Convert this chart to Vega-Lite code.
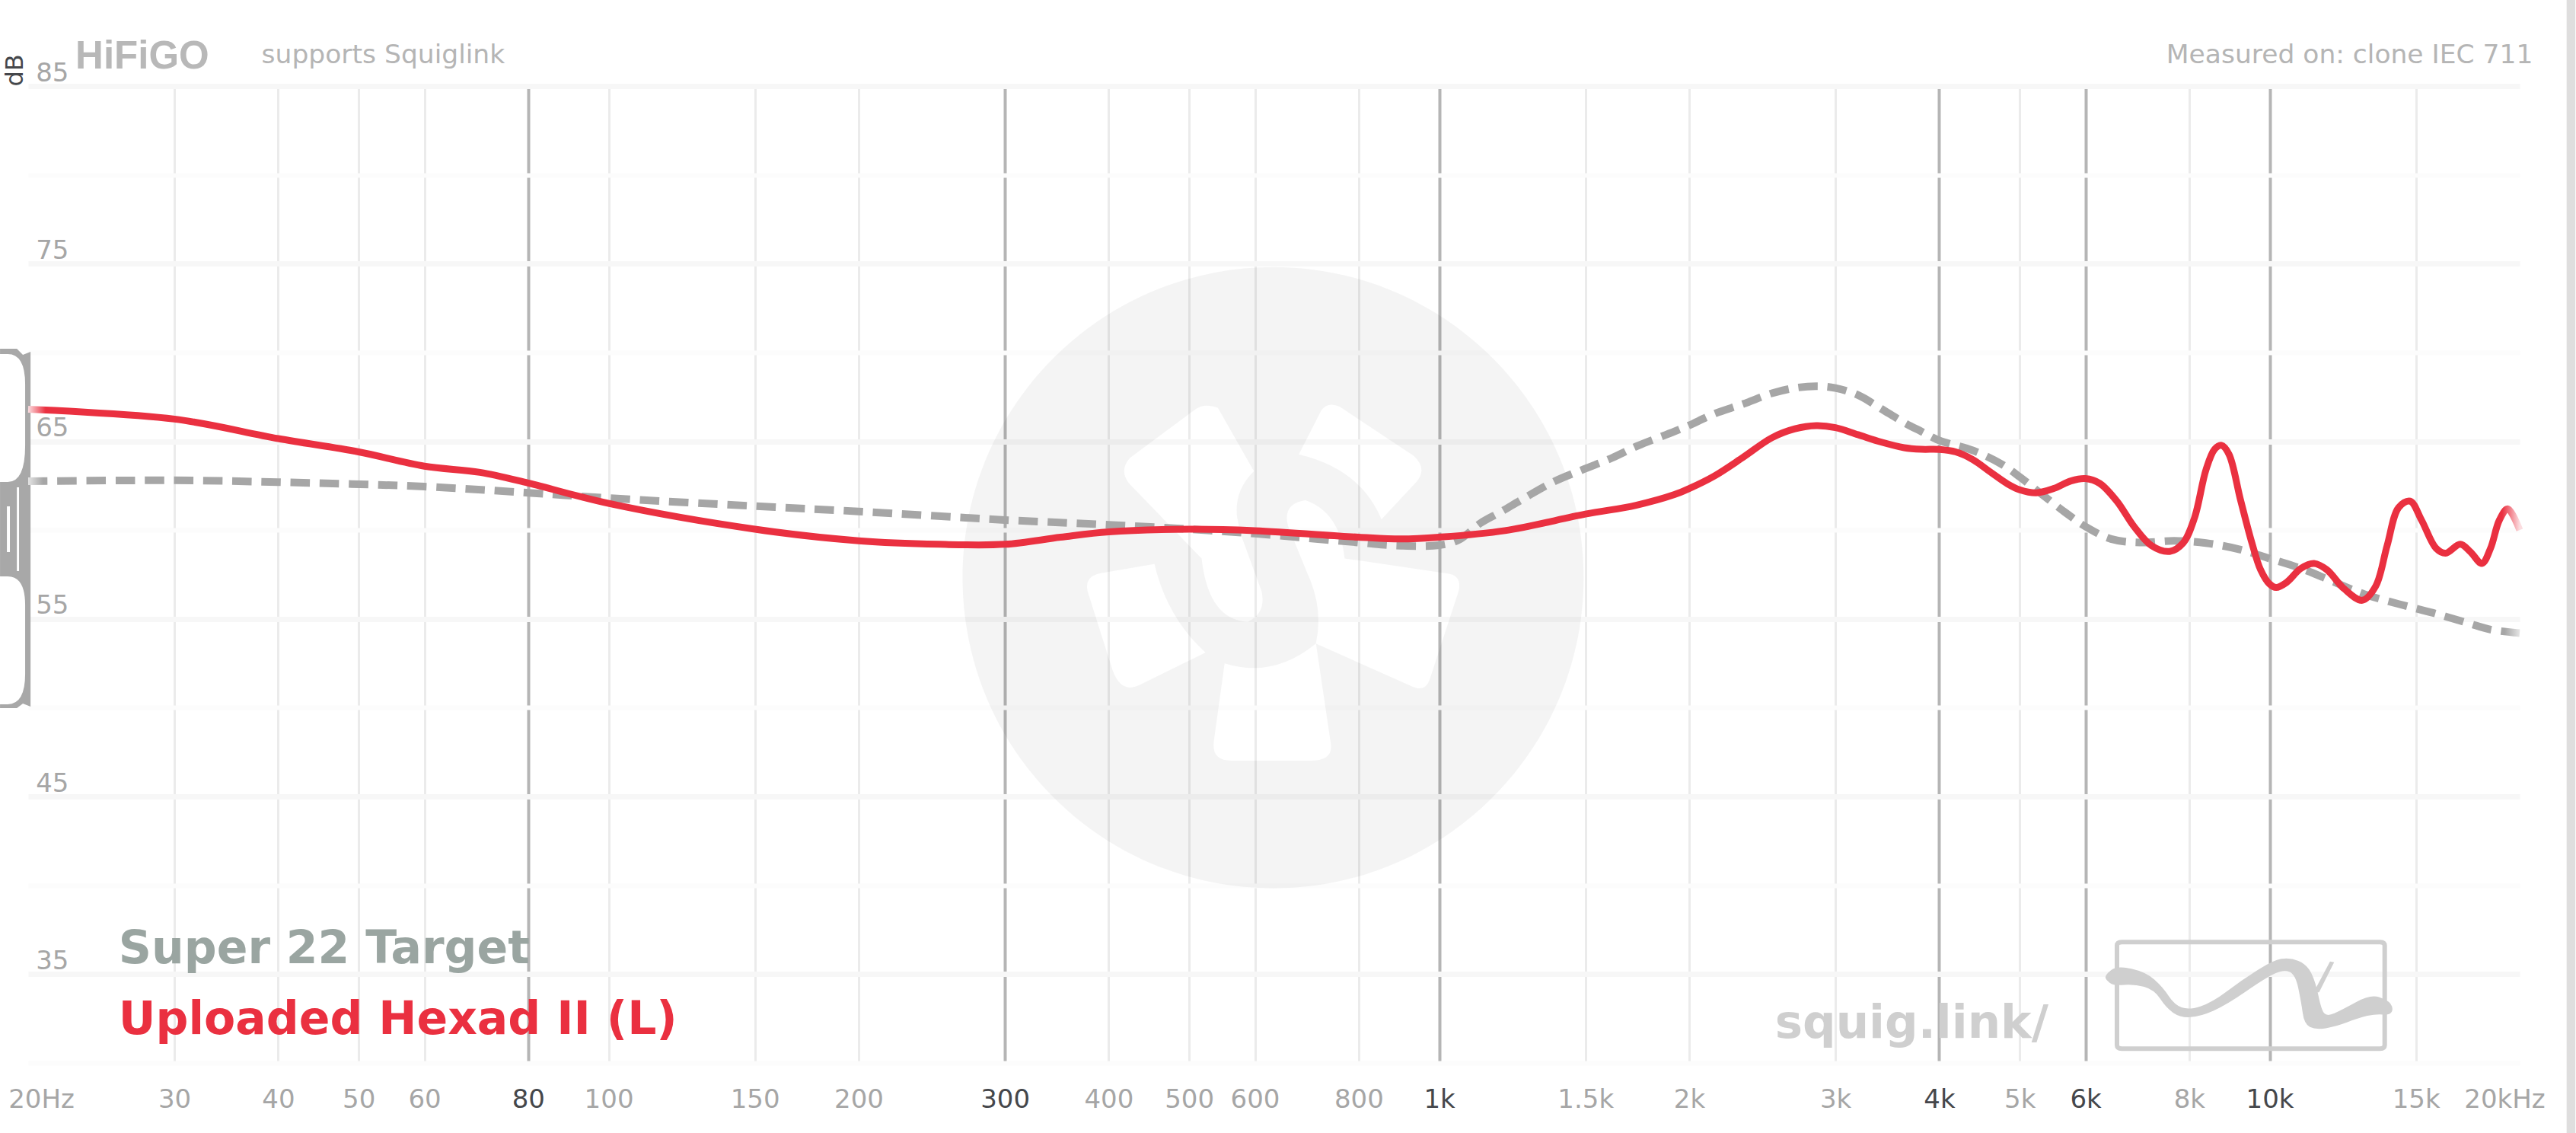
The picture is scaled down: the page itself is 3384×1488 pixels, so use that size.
{
  "$schema": "https://vega.github.io/schema/vega-lite/v6.json",
  "width": 3273,
  "height": 1283,
  "autosize": "none",
  "padding": {"left": 37, "top": 113, "right": 74, "bottom": 92},
  "background": "#ffffff",
  "datasets": {
    "curves": [
      {"series":"Uploaded Hexad II (L)","freq":20,"db":66.8},{"series":"Uploaded Hexad II (L)","freq":30,"db":66.25},{"series":"Uploaded Hexad II (L)","freq":40,"db":65.15},{"series":"Uploaded Hexad II (L)","freq":50,"db":64.4},{"series":"Uploaded Hexad II (L)","freq":60,"db":63.6},{"series":"Uploaded Hexad II (L)","freq":70,"db":63.25},{"series":"Uploaded Hexad II (L)","freq":80,"db":62.65},{"series":"Uploaded Hexad II (L)","freq":100,"db":61.5},{"series":"Uploaded Hexad II (L)","freq":150,"db":60.05},{"series":"Uploaded Hexad II (L)","freq":200,"db":59.4},{"series":"Uploaded Hexad II (L)","freq":250,"db":59.2},{"series":"Uploaded Hexad II (L)","freq":300,"db":59.2},{"series":"Uploaded Hexad II (L)","freq":350,"db":59.6},{"series":"Uploaded Hexad II (L)","freq":400,"db":59.9},{"series":"Uploaded Hexad II (L)","freq":500,"db":60.05},{"series":"Uploaded Hexad II (L)","freq":600,"db":59.97},{"series":"Uploaded Hexad II (L)","freq":800,"db":59.6},{"series":"Uploaded Hexad II (L)","freq":900,"db":59.5},{"series":"Uploaded Hexad II (L)","freq":1000,"db":59.6},{"series":"Uploaded Hexad II (L)","freq":1200,"db":59.97},{"series":"Uploaded Hexad II (L)","freq":1500,"db":60.9},{"series":"Uploaded Hexad II (L)","freq":1726,"db":61.4},{"series":"Uploaded Hexad II (L)","freq":1920,"db":62.0},{"series":"Uploaded Hexad II (L)","freq":2000,"db":62.34},{"series":"Uploaded Hexad II (L)","freq":2145,"db":63.05},{"series":"Uploaded Hexad II (L)","freq":2323,"db":64.1},{"series":"Uploaded Hexad II (L)","freq":2516,"db":65.2},{"series":"Uploaded Hexad II (L)","freq":2682,"db":65.7},{"series":"Uploaded Hexad II (L)","freq":2844,"db":65.88},{"series":"Uploaded Hexad II (L)","freq":3000,"db":65.77},{"series":"Uploaded Hexad II (L)","freq":3195,"db":65.37},{"series":"Uploaded Hexad II (L)","freq":3404,"db":64.96},{"series":"Uploaded Hexad II (L)","freq":3630,"db":64.64},{"series":"Uploaded Hexad II (L)","freq":3808,"db":64.55},{"series":"Uploaded Hexad II (L)","freq":4000,"db":64.54},{"series":"Uploaded Hexad II (L)","freq":4188,"db":64.4},{"series":"Uploaded Hexad II (L)","freq":4395,"db":63.96},{"series":"Uploaded Hexad II (L)","freq":4610,"db":63.27},{"series":"Uploaded Hexad II (L)","freq":4836,"db":62.6},{"series":"Uploaded Hexad II (L)","freq":5000,"db":62.27},{"series":"Uploaded Hexad II (L)","freq":5236,"db":62.1},{"series":"Uploaded Hexad II (L)","freq":5495,"db":62.34},{"series":"Uploaded Hexad II (L)","freq":5764,"db":62.77},{"series":"Uploaded Hexad II (L)","freq":6000,"db":62.9},{"series":"Uploaded Hexad II (L)","freq":6243,"db":62.63},{"series":"Uploaded Hexad II (L)","freq":6546,"db":61.63},{"series":"Uploaded Hexad II (L)","freq":6866,"db":60.2},{"series":"Uploaded Hexad II (L)","freq":7204,"db":59.13},{"series":"Uploaded Hexad II (L)","freq":7578,"db":58.8},{"series":"Uploaded Hexad II (L)","freq":7865,"db":59.27},{"series":"Uploaded Hexad II (L)","freq":8120,"db":60.7},{"series":"Uploaded Hexad II (L)","freq":8382,"db":63.4},{"series":"Uploaded Hexad II (L)","freq":8585,"db":64.55},{"series":"Uploaded Hexad II (L)","freq":8750,"db":64.77},{"series":"Uploaded Hexad II (L)","freq":8933,"db":64.27},{"series":"Uploaded Hexad II (L)","freq":9224,"db":61.7},{"series":"Uploaded Hexad II (L)","freq":9521,"db":59.27},{"series":"Uploaded Hexad II (L)","freq":9750,"db":57.77},{"series":"Uploaded Hexad II (L)","freq":9990,"db":56.98},{"series":"Uploaded Hexad II (L)","freq":10180,"db":56.77},{"series":"Uploaded Hexad II (L)","freq":10478,"db":57.05},{"series":"Uploaded Hexad II (L)","freq":10905,"db":57.84},{"series":"Uploaded Hexad II (L)","freq":11310,"db":58.12},{"series":"Uploaded Hexad II (L)","freq":11715,"db":57.77},{"series":"Uploaded Hexad II (L)","freq":12290,"db":56.7},{"series":"Uploaded Hexad II (L)","freq":12930,"db":56.05},{"series":"Uploaded Hexad II (L)","freq":13417,"db":56.84},{"series":"Uploaded Hexad II (L)","freq":13850,"db":59.13},{"series":"Uploaded Hexad II (L)","freq":14297,"db":61.27},{"series":"Uploaded Hexad II (L)","freq":14760,"db":61.63},{"series":"Uploaded Hexad II (L)","freq":15240,"db":60.55},{"series":"Uploaded Hexad II (L)","freq":15860,"db":58.98},{"series":"Uploaded Hexad II (L)","freq":16290,"db":58.7},{"series":"Uploaded Hexad II (L)","freq":16960,"db":59.2},{"series":"Uploaded Hexad II (L)","freq":17450,"db":58.77},{"series":"Uploaded Hexad II (L)","freq":18010,"db":58.12},{"series":"Uploaded Hexad II (L)","freq":18450,"db":58.98},{"series":"Uploaded Hexad II (L)","freq":18900,"db":60.55},{"series":"Uploaded Hexad II (L)","freq":19350,"db":61.2},{"series":"Uploaded Hexad II (L)","freq":20000,"db":60.0}
    ],
    "target": [
      {"series":"Super 22 Target","freq":20,"db":62.75},{"series":"Super 22 Target","freq":30,"db":62.8},{"series":"Super 22 Target","freq":40,"db":62.7},{"series":"Super 22 Target","freq":60,"db":62.45},{"series":"Super 22 Target","freq":80,"db":62.1},{"series":"Super 22 Target","freq":100,"db":61.8},{"series":"Super 22 Target","freq":150,"db":61.35},{"series":"Super 22 Target","freq":200,"db":61.05},{"series":"Super 22 Target","freq":300,"db":60.57},{"series":"Super 22 Target","freq":400,"db":60.3},{"series":"Super 22 Target","freq":500,"db":60.05},{"series":"Super 22 Target","freq":600,"db":59.8},{"series":"Super 22 Target","freq":800,"db":59.3},{"series":"Super 22 Target","freq":900,"db":59.12},{"series":"Super 22 Target","freq":1000,"db":59.15},{"series":"Super 22 Target","freq":1056,"db":59.45},{"series":"Super 22 Target","freq":1122,"db":60.4},{"series":"Super 22 Target","freq":1188,"db":61.04},{"series":"Super 22 Target","freq":1263,"db":61.77},{"series":"Super 22 Target","freq":1378,"db":62.75},{"series":"Super 22 Target","freq":1496,"db":63.44},{"series":"Super 22 Target","freq":1616,"db":64.07},{"series":"Super 22 Target","freq":1735,"db":64.75},{"series":"Super 22 Target","freq":1920,"db":65.55},{"series":"Super 22 Target","freq":2000,"db":65.9},{"series":"Super 22 Target","freq":2145,"db":66.55},{"series":"Super 22 Target","freq":2323,"db":67.1},{"series":"Super 22 Target","freq":2516,"db":67.7},{"series":"Super 22 Target","freq":2682,"db":68.0},{"series":"Super 22 Target","freq":2844,"db":68.1},{"series":"Super 22 Target","freq":3000,"db":68.0},{"series":"Super 22 Target","freq":3195,"db":67.6},{"series":"Super 22 Target","freq":3404,"db":66.84},{"series":"Super 22 Target","freq":3630,"db":66.05},{"series":"Super 22 Target","freq":3808,"db":65.55},{"series":"Super 22 Target","freq":4000,"db":65.05},{"series":"Super 22 Target","freq":4395,"db":64.48},{"series":"Super 22 Target","freq":4760,"db":63.7},{"series":"Super 22 Target","freq":5000,"db":63.0},{"series":"Super 22 Target","freq":5322,"db":62.0},{"series":"Super 22 Target","freq":5672,"db":61.0},{"series":"Super 22 Target","freq":6000,"db":60.2},{"series":"Super 22 Target","freq":6443,"db":59.5},{"series":"Super 22 Target","freq":6980,"db":59.3},{"series":"Super 22 Target","freq":7680,"db":59.4},{"series":"Super 22 Target","freq":8382,"db":59.27},{"series":"Super 22 Target","freq":9224,"db":58.9},{"series":"Super 22 Target","freq":9990,"db":58.4},{"series":"Super 22 Target","freq":10905,"db":57.84},{"series":"Super 22 Target","freq":12000,"db":57.05},{"series":"Super 22 Target","freq":12990,"db":56.4},{"series":"Super 22 Target","freq":14297,"db":55.84},{"series":"Super 22 Target","freq":15730,"db":55.34},{"series":"Super 22 Target","freq":17310,"db":54.77},{"series":"Super 22 Target","freq":18450,"db":54.4},{"series":"Super 22 Target","freq":20000,"db":54.2}
    ]
  },
  "encoding": {
    "x": {
      "field": "freq",
      "type": "quantitative",
      "scale": {"type": "log", "domain": [20, 20000], "nice": false},
      "axis": {
        "title": null,
        "values": [20,30,40,50,60,80,100,150,200,300,400,500,600,800,1000,1500,2000,3000,4000,5000,6000,8000,10000,15000,20000],
        "domain": false,
        "ticks": false,
        "labelPadding": 31,
        "labelFont": "DejaVu Sans",
        "labelFontSize": 34,
        "labelOverlap": false,
        "labelFlush": false,
        "labelBound": false,
        "labelExpr": "datum.value == 20 ? '20Hz' : datum.value == 20000 ? '20kHz' : datum.value >= 1000 ? (datum.value / 1000) + 'k' : datum.value",
        "labelOffset": {"condition": [{"test": "datum.value == 20", "value": 17}, {"test": "datum.value == 20000", "value": -20}], "value": 0},
        "labelColor": {"condition": {"test": "indexof([80,300,1000,4000,6000,10000], datum.value) >= 0", "value": "#45474b"}, "value": "#a6a6a6"},
        "grid": true,
        "gridWidth": {"condition": {"test": "indexof([80,300,1000,4000,6000,10000], datum.value) >= 0", "value": 4}, "value": 3},
        "gridColor": {"condition": [{"test": "datum.value == 20 || datum.value == 20000", "value": "transparent"}, {"test": "indexof([80,300,1000,4000,6000,10000], datum.value) >= 0", "value": "#b5b5b5"}], "value": "#ebebeb"}
      }
    },
    "y": {
      "field": "db",
      "type": "quantitative",
      "scale": {"domain": [30, 85], "nice": false, "zero": false},
      "axis": {
        "title": "dB",
        "titleFont": "DejaVu Sans",
        "titleFontSize": 32,
        "titleFontWeight": "normal",
        "titleColor": "#45474b",
        "titleAngle": 270,
        "titleAlign": "left",
        "titleBaseline": "alphabetic",
        "titleX": -8,
        "titleY": 0,
        "values": [30,35,40,45,50,55,60,65,70,75,80,85],
        "domain": false,
        "ticks": false,
        "labelPadding": -53,
        "labelFont": "DejaVu Sans",
        "labelFontSize": 34,
        "labelColor": "#a6a6a6",
        "labelAlign": "right",
        "labelBaseline": "alphabetic",
        "labelOffset": -7,
        "labelOverlap": false,
        "labelBound": false,
        "labelFlush": false,
        "labelExpr": "datum.value % 10 == 5 ? datum.value : ''",
        "grid": true,
        "gridWidth": {"condition": {"test": "datum.value % 10 == 5", "value": 7}, "value": 6},
        "gridColor": {"condition": {"test": "datum.value % 10 == 5", "value": "#f7f7f7"}, "value": "#fcfcfc"}
      }
    }
  },
  "layer": [
    {
      "data": {"values": [{"freq": 631, "db": 57.32}]},
      "mark": {
        "type": "point",
        "filled": true,
        "fill": "#000000",
        "opacity": 0.045,
        "strokeWidth": 0,
        "size": 665856,
        "clip": false,
        "shape": "M-1 0A1 1 0 1 0 1 0A1 1 0 1 0 -1 0ZM-.178 -.547L-.062 -.343Q-.126 -.28 -.116 -.195L-.104 -.139L-.037 .044Q-.022 .114 -.082 .142Q-.208 .135 -.23 -.062L-.461 -.301Q-.498 -.343 -.461 -.385L-.253 -.54Q-.223 -.564 -.178 -.547ZM.215 -.55L.453 -.392Q.498 -.35 .461 -.308L.349 -.188Q.282 -.35 .083 -.397L.156 -.54Q.178 -.568 .215 -.55ZM.23 -.062L.565 -.013Q.609 -.006 .597 .044L.505 .325Q.49 .374 .438 .346L.138 .212Q.163 .1 .111 -.013L.048 -.167Q.03 -.238 .104 -.249Q.215 -.21 .23 -.062ZM-.156 .276Q0 .325 .138 .212L.186 .536Q.193 .589 .119 .589L-.134 .589Q-.201 .589 -.19 .522ZM-.382 -.044Q-.342 .128 -.218 .241L-.431 .346Q-.49 .374 -.517 .297L-.597 .044Q-.609 -.006 -.55 -.015Z"
      }
    },
    {
      "data": {"values": [{"freq": 18.5, "db": 60.05}]},
      "mark": {
        "type": "point",
        "filled": true,
        "fill": "#a8a8a8",
        "opacity": 1,
        "strokeWidth": 0,
        "size": 230400,
        "clip": false,
        "shape": "M0 -.988L.092 -.988L.125 -.954L.167 -.971L.167 .971L.125 .954L.092 .979L0 .979ZM0 -.958L0 -.258L.042 -.258Q.1375 -.258 .1375 -.458L.1375 -.792Q.1375 -.958 .042 -.958ZM0 .258L0 .958L.042 .958Q.1375 .958 .1375 .792L.1375 .417Q.1375 .258 .042 .258ZM.0375 -.125L.0375 .125L.054 .125L.054 -.125ZM.092 -.229L.092 .229L.104 .229L.104 -.229Z"
      }
    },
    {
      "data": {"values": [{"freq": 9484, "db": 33.82}]},
      "mark": {
        "type": "point",
        "filled": false,
        "fill": null,
        "stroke": "#cfcfcf",
        "strokeWidth": 6,
        "opacity": 1,
        "size": 129600,
        "clip": false,
        "shape": "M-.94 -.387L.945 -.387Q.979 -.387 .979 -.36L.979 .365Q.979 .391 .945 .391L-.94 .391Q-.975 .391 -.975 .365L-.975 -.36Q-.975 -.387 -.94 -.387Z"
      }
    },
    {
      "data": {"values": [{"freq": 9484, "db": 33.82}]},
      "mark": {
        "type": "point",
        "filled": true,
        "fill": "#cfcfcf",
        "opacity": 1,
        "strokeWidth": 0,
        "size": 129600,
        "clip": false,
        "shape": "M-1.017 -.183Q-.975 -.215 -.87 -.192Q-.765 -.169 -.702 -.113Q-.639 -.057 -.597 .008Q-.555 .072 -.503 .09Q-.45 .109 -.366 .082Q-.282 .054 -.177 -.025Q-.071 -.104 .045 -.178Q.16 -.252 .223 -.264Q.286 -.276 .349 -.25Q.412 -.224 .444 -.159Q.475 -.094 .496 .008Q.517 .109 .538 .133Q.559 .156 .612 .133Q.664 .109 .769 .052Q.874 -.006 .937 .015Q1 .035 1.021 .063Q1.042 .091 1.032 .119Q1.021 .146 .969 .142Q.916 .137 .853 .151Q.79 .165 .706 .198Q.622 .23 .549 .242Q.475 .254 .433 .233Q.391 .211 .381 .133Q.37 .054 .349 -.048Q.328 -.15 .286 -.169Q.244 -.187 .181 -.159Q.118 -.131 -.029 -.03Q-.176 .072 -.271 .114Q-.366 .156 -.44 .161Q-.513 .165 -.566 .128Q-.618 .091 -.66 .026Q-.702 -.039 -.776 -.06Q-.849 -.08 -.923 -.074Q-.996 -.067 -1.028 -.09Q-1.059 -.113 -1.059 -.131Q-1.059 -.15 -1.017 -.183ZM.58 -.245L.61 -.24L.5 -.02L.46 -.02Z"
      }
    },
    {
      "data": {"values": [{"freq": 22780, "freq2": 23340, "db": 89.84, "db2": 26.06}]},
      "mark": {"type": "rect", "fill": "#dfdede", "clip": false},
      "encoding": {
        "x2": {"field": "freq2"},
        "y2": {"field": "db2"}
      }
    },
    {
      "data": {"name": "target"},
      "mark": {
        "type": "line",
        "interpolate": "catmull-rom",
        "strokeWidth": 10,
        "strokeDash": [25.5, 12.8],
        "strokeCap": "butt",
        "stroke": {
          "gradient": "linear",
          "x1": 0, "y1": 0, "x2": 1, "y2": 0,
          "stops": [
            {"offset": 0, "color": "#e4e4e4"},
            {"offset": 0.006, "color": "#a6a6a6"},
            {"offset": 0.994, "color": "#a6a6a6"},
            {"offset": 1, "color": "#e4e4e4"}
          ]
        }
      }
    },
    {
      "data": {"name": "curves"},
      "mark": {
        "type": "line",
        "interpolate": "catmull-rom",
        "strokeWidth": 9,
        "strokeCap": "butt",
        "stroke": {
          "gradient": "linear",
          "x1": 0, "y1": 0, "x2": 1, "y2": 0,
          "stops": [
            {"offset": 0, "color": "#fbdde0"},
            {"offset": 0.007, "color": "#ea3040"},
            {"offset": 0.993, "color": "#ea3040"},
            {"offset": 1, "color": "#fbdde0"}
          ]
        }
      }
    },
    {
      "data": {"values": [
        {"label": "Super 22 Target", "freq": 25.7, "db": 35.62},
        {"label": "Uploaded Hexad II (L)", "freq": 25.7, "db": 31.63}
      ]},
      "mark": {"type": "text", "align": "left", "baseline": "alphabetic", "font": "DejaVu Sans", "fontWeight": "bold", "fontSize": 60},
      "encoding": {
        "text": {"field": "label"},
        "color": {"field": "label", "type": "nominal", "legend": null, "scale": {"domain": ["Super 22 Target", "Uploaded Hexad II (L)"], "range": ["#9aa5a1", "#ea3040"]}}
      }
    },
    {
      "data": {"values": [{"label": "squig.link/", "freq": 2537, "db": 31.4}]},
      "mark": {"type": "text", "align": "left", "baseline": "alphabetic", "font": "DejaVu Sans", "fontWeight": "bold", "fontSize": 61, "color": "#cfcfcf"},
      "encoding": {"text": {"field": "label"}}
    },
    {
      "data": {"values": [{"label": "supports Squiglink", "freq": 38.2, "db": 86.29}]},
      "mark": {"type": "text", "align": "left", "baseline": "alphabetic", "font": "DejaVu Sans", "fontSize": 34.5, "color": "#b5b5b5"},
      "encoding": {"text": {"field": "label"}}
    },
    {
      "data": {"values": [{"label": "Measured on: clone IEC 711", "freq": 20750, "db": 86.29}]},
      "mark": {"type": "text", "align": "right", "baseline": "alphabetic", "font": "DejaVu Sans", "fontSize": 34.5, "color": "#b5b5b5"},
      "encoding": {"text": {"field": "label"}}
    },
    {
      "data": {"values": [{"label": "HiFiGO", "freq": 22.8, "db": 85.99}]},
      "mark": {"type": "text", "align": "left", "baseline": "alphabetic", "font": "Liberation Sans", "fontWeight": "bold", "fontSize": 51, "color": "#b8b8b8"},
      "encoding": {"text": {"field": "label"}}
    }
  ],
  "config": {"view": {"stroke": null}}
}
